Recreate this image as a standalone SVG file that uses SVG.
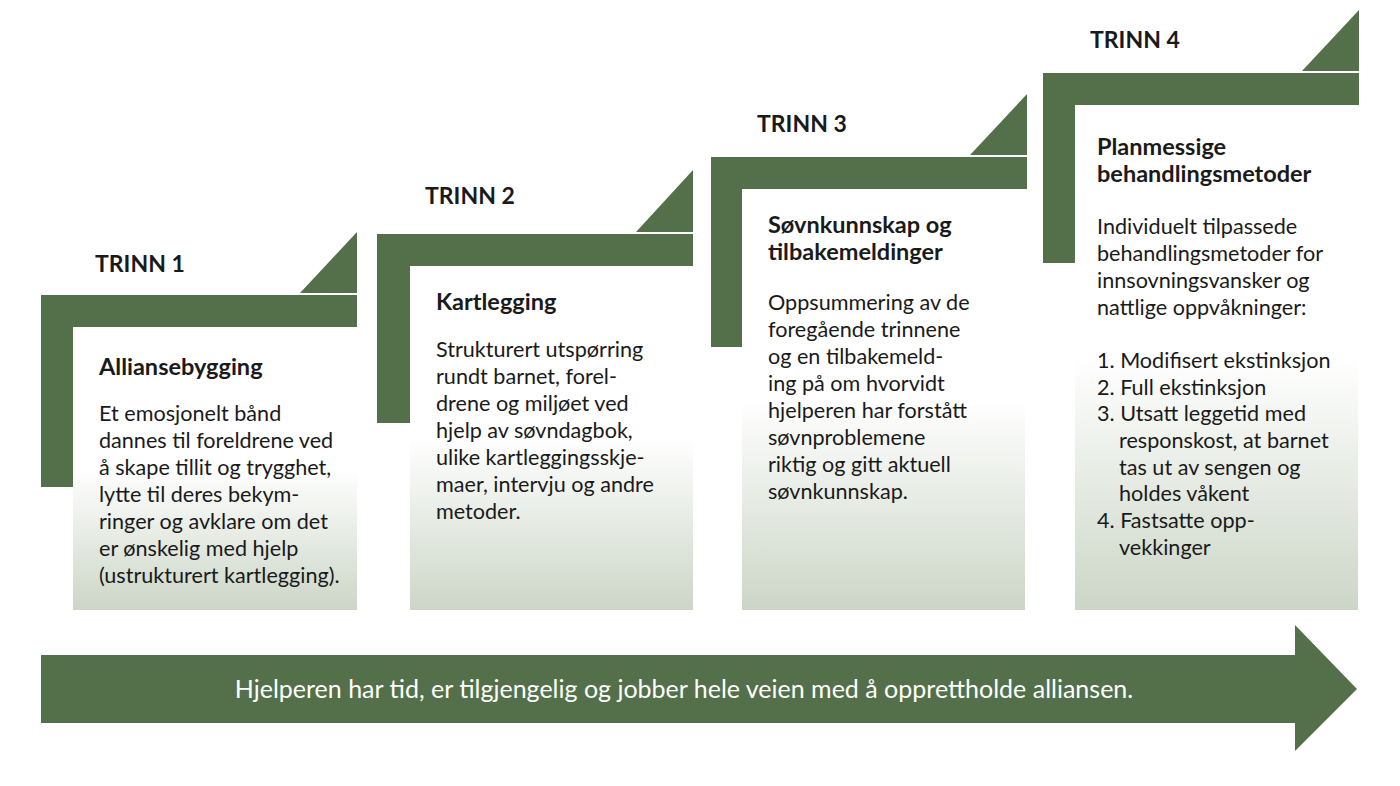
<svg xmlns="http://www.w3.org/2000/svg" width="1400" height="786" viewBox="0 0 1400 786">
<defs>
<linearGradient id="g" x1="0" y1="0" x2="0" y2="1">
<stop offset="0" stop-color="#ffffff"/><stop offset="0.5" stop-color="#ffffff"/><stop offset="1" stop-color="#ccd6c7"/>
</linearGradient>
<style>
.d{fill:#54704a}
.b{fill:url(#g)}
text{font-family:Lato,"Liberation Sans",sans-serif;font-size:21.6px;fill:#1a1a1a}
.h{font-weight:bold;font-size:23.5px}
.t{font-weight:bold;font-size:23px}
</style>
</defs>
<rect width="1400" height="786" fill="#fff"/>
<g id="step1">
<rect class="b" x="73" y="327" width="284" height="283"/>
<path class="d" d="M41 295H357V327H73V487H41Z"/>
<path class="d" d="M300 293L357 232V293Z"/>
<text class="t" x="95" y="272">TRINN 1</text>
<text class="h" x="99" y="375">Alliansebygging</text>
<text x="99" y="421">Et emosjonelt bånd</text>
<text x="99" y="448">dannes til foreldrene ved</text>
<text x="99" y="475">å skape tillit og trygghet,</text>
<text x="99" y="502">lytte til deres bekym-</text>
<text x="99" y="529">ringer og avklare om det</text>
<text x="99" y="556">er ønskelig med hjelp</text>
<text x="99" y="583">(ustrukturert kartlegging).</text>
</g>
<g id="step2">
<rect class="b" x="410" y="266" width="283" height="344"/>
<path class="d" d="M377 234H693V266H410V423H377Z"/>
<path class="d" d="M636 232L693 170V232Z"/>
<text class="t" x="425" y="204">TRINN 2</text>
<text class="h" x="436" y="310">Kartlegging</text>
<text x="436" y="357">Strukturert utspørring</text>
<text x="436" y="384">rundt barnet, forel-</text>
<text x="436" y="411">drene og miljøet ved</text>
<text x="436" y="438">hjelp av søvndagbok,</text>
<text x="436" y="465">ulike kartleggingsskje-</text>
<text x="436" y="492">maer, intervju og andre</text>
<text x="436" y="519">metoder.</text>
</g>
<g id="step3">
<rect class="b" x="742" y="189" width="283" height="421"/>
<path class="d" d="M711 157H1027V189H742V347H711Z"/>
<path class="d" d="M970 155L1027 94V155Z"/>
<text class="t" x="757" y="132">TRINN 3</text>
<text class="h" x="768" y="233">Søvnkunnskap og</text>
<text class="h" x="768" y="260">tilbakemeldinger</text>
<text x="768" y="310">Oppsummering av de</text>
<text x="768" y="337">foregående trinnene</text>
<text x="768" y="364">og en tilbakemeld-</text>
<text x="768" y="391">ing på om hvorvidt</text>
<text x="768" y="418">hjelperen har forstått</text>
<text x="768" y="445">søvnproblemene</text>
<text x="768" y="472">riktig og gitt aktuell</text>
<text x="768" y="499">søvnkunnskap.</text>
</g>
<g id="step4">
<rect class="b" x="1075" y="105" width="283" height="505"/>
<path class="d" d="M1043 73H1359V105H1075V263H1043Z"/>
<path class="d" d="M1302 71L1359 10V71Z"/>
<text class="t" x="1090" y="48">TRINN 4</text>
<text class="h" x="1097" y="155">Planmessige</text>
<text class="h" x="1097" y="182">behandlingsmetoder</text>
<text x="1097" y="234">Individuelt tilpassede</text>
<text x="1097" y="261">behandlingsmetoder for</text>
<text x="1097" y="288">innsovningsvansker og</text>
<text x="1097" y="315">nattlige oppvåkninger:</text>
<text x="1097" y="368">1. Modifisert ekstinksjon</text>
<text x="1097" y="395">2. Full ekstinksjon</text>
<text x="1097" y="421">3. Utsatt leggetid med</text>
<text x="1119" y="448">responskost, at barnet</text>
<text x="1119" y="475">tas ut av sengen og</text>
<text x="1119" y="501">holdes våkent</text>
<text x="1097" y="528">4. Fastsatte opp-</text>
<text x="1119" y="555">vekkinger</text>
</g>
<g id="connectors">
<path class="d" d="M41 655H1295V625L1357 689L1295 751V723H41Z"/>
<text x="684" y="698" text-anchor="middle" style="fill:#fff;font-size:25px">Hjelperen har tid, er tilgjengelig og jobber hele veien med å opprettholde alliansen.</text>
</g>
</svg>
